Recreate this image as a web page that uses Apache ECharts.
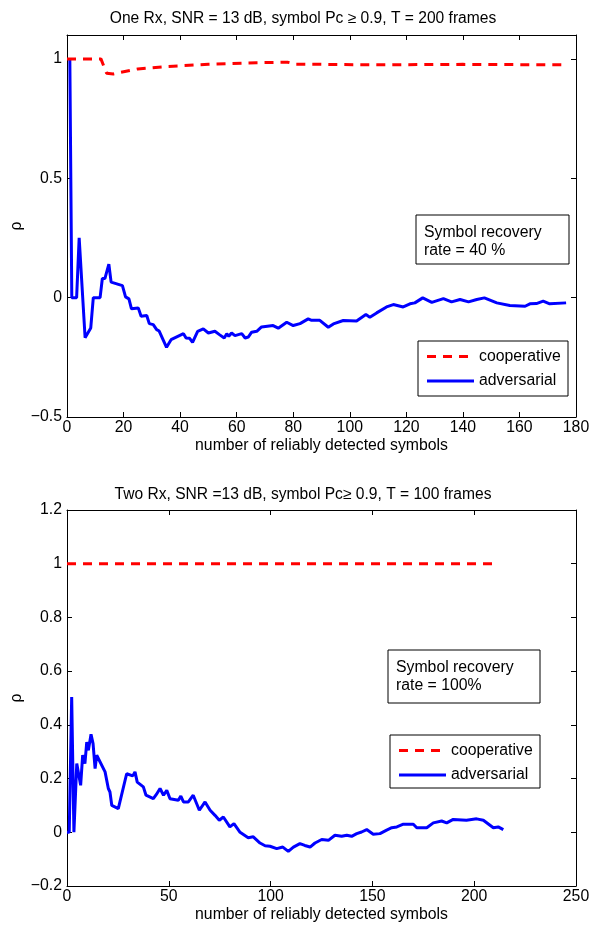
<!DOCTYPE html>
<html>
<head>
<meta charset="utf-8">
<script src="https://cdn.jsdelivr.net/npm/echarts@6/dist/echarts.min.js"></script>
<style>
html,body{margin:0;padding:0;background:#fff;}
#chart{width:606px;height:930px;}
</style>
</head>
<body>
<div id="chart"></div>
<script>
// ---- data ----
const titleTop = "One Rx, SNR = 13 dB, symbol Pc \u2265 0.9, T = 200 frames";
const titleBottom = "Two Rx, SNR =13 dB, symbol Pc\u2265 0.9, T = 100 frames";
const xLabelText = "number of reliably detected symbols";
const yLabelText = "\u03c1";
const seriesNames = ["cooperative", "adversarial"];
const noteTop = ["Symbol recovery", "rate = 40 %"];
const noteBottom = ["Symbol recovery", "rate = 100%"];

const cooperativeTop = [[0,1],[12,1],[14,0.94],[16.4,0.937],[25,0.958],[35,0.968],[50,0.977],[67,0.984],[78,0.986],[81,0.978],[110,0.975],[140,0.977],[176.5,0.975]];
const adversarialTop = [[1,1],[1.7,0],[3.4,0],[4.3,0.25],[6.4,-0.168],[8.4,-0.127],[9.3,0],[11.7,0],[12.5,0.08],[13.4,0.08],[14.8,0.14],[15.6,0.065],[19.6,0.05],[20.7,0.003],[21.9,-0.005],[22.8,-0.047],[25.2,-0.043],[26.2,-0.078],[28.2,-0.075],[29.1,-0.109],[30.5,-0.113],[31.7,-0.134],[32.6,-0.14],[35.2,-0.208],[36.8,-0.176],[41.2,-0.151],[42.1,-0.169],[43.3,-0.17],[44.4,-0.187],[46.2,-0.141],[48.2,-0.131],[50,-0.148],[52.3,-0.141],[53.9,-0.155],[55.6,-0.169],[56.5,-0.151],[57.2,-0.162],[58.2,-0.148],[59.4,-0.159],[61.8,-0.151],[63,-0.169],[64.1,-0.165],[65.3,-0.145],[67.1,-0.141],[68.8,-0.123],[72.9,-0.117],[74.7,-0.128],[77.7,-0.103],[80,-0.117],[82.4,-0.109],[85.3,-0.089],[86.5,-0.095],[89.4,-0.095],[92.4,-0.124],[94.2,-0.11],[97.7,-0.096],[102.4,-0.098],[105.7,-0.071],[107.1,-0.082],[109.5,-0.064],[113,-0.039],[115.4,-0.029],[118.9,-0.039],[121.3,-0.026],[123,-0.022],[125.8,-0.001],[129,-0.02],[133.1,-0.004],[136,-0.018],[139,-0.008],[142,-0.018],[144.9,-0.008],[147.6,-0.001],[152,-0.022],[156.6,-0.033],[162,-0.036],[163.7,-0.026],[166,-0.025],[168.4,-0.015],[170.7,-0.026],[176.5,-0.022]];

const cooperativeBottom = [[0,1],[211,1]];
const adversarialBottom = [[0,0],[1.1,0],[2.3,0.504],[3.4,0],[4.8,0.256],[6.7,0.175],[7.7,0.287],[8.8,0.256],[9.7,0.336],[10.5,0.305],[11.8,0.365],[12.8,0.33],[13.8,0.237],[14.6,0.287],[18.7,0.225],[20.3,0.163],[21.1,0.15],[22,0.1],[25.2,0.088],[29.3,0.218],[32.3,0.21],[33.4,0.225],[34.5,0.187],[37.5,0.169],[38.8,0.138],[42.4,0.125],[43.9,0.141],[45.7,0.163],[47.4,0.138],[49,0.156],[50.6,0.125],[54.7,0.119],[55.9,0.135],[57.2,0.113],[59.6,0.113],[62,0.138],[65,0.082],[67.8,0.113],[70.3,0.082],[72.7,0.063],[74.8,0.045],[76.8,0.057],[80,0.02],[82,0.032],[85,0],[89,-0.02],[91.5,-0.017],[94.8,-0.04],[97.3,-0.05],[99.7,-0.052],[103,-0.061],[106,-0.055],[108.7,-0.071],[111.2,-0.055],[114.4,-0.042],[116.8,-0.049],[119.4,-0.055],[121.8,-0.04],[125.1,-0.027],[128.4,-0.03],[131.6,-0.011],[134.9,-0.015],[137.4,-0.011],[139.8,-0.015],[142.3,-0.005],[144.7,0.001],[147.2,0.01],[150.4,-0.007],[153.7,-0.005],[157,0.008],[159.5,0.017],[162,0.02],[165.2,0.03],[170.1,0.03],[171.8,0.017],[176.7,0.017],[179.9,0.035],[184,0.042],[186.5,0.035],[189.7,0.048],[196.2,0.045],[201.2,0.05],[204.5,0.045],[209.4,0.017],[211.8,0.02],[214.3,0.01]];

const xTop = {min:0, max:180, interval:20};
const yTop = {min:-0.5, max:1.1, interval:0.5};
const xBottom = {min:0, max:250, interval:50};
const yBottom = {min:-0.2, max:1.2, interval:0.2};

// ---- chart ----
const FONT = "Liberation Sans, Arial, sans-serif";
const FS = 15.8;
const chart = echarts.init(document.getElementById('chart'), null, {renderer:'canvas'});
const fmt = v => { let s = String(Math.round(v*1000)/1000); return s.replace('-', '\u2212'); };
const lblStyle = {color:'#000', fontFamily:FONT, fontSize:FS};
function xAx(grid, r, pos, main){
  return {type:'value', gridIndex:grid, position:pos, min:r.min, max:r.max, interval:r.interval,
    name: main ? xLabelText : '', nameLocation:'middle', nameGap:21, nameMoveOverlap:false,
    nameTextStyle:{color:'#000', fontFamily:FONT, fontSize:FS},
    axisLine:{show:true, onZero:false, lineStyle:{color:'#000', width:1}},
    axisTick:{show:true, inside:true, length:5, lineStyle:{color:'#000'}},
    axisLabel:{show:main, margin:3, formatter:fmt, ...lblStyle},
    splitLine:{show:false}};
}
function yAx(grid, r, pos, main, hideMax){
  return {type:'value', gridIndex:grid, position:pos, min:r.min, max:r.max, interval:r.interval,
    name: main ? yLabelText : '', nameLocation:'middle', nameGap:42, nameRotate:90, nameMoveOverlap:false,
    nameTextStyle:{color:'#000', fontFamily:FONT, fontSize:FS},
    axisLine:{show:true, onZero:false, lineStyle:{color:'#000', width:1}},
    axisTick:{show:true, inside:true, length:5, lineStyle:{color:'#000'}},
    axisLabel:{show:main, margin:5, formatter:fmt, showMaxLabel: !hideMax, ...lblStyle},
    splitLine:{show:false}};
}
const coopStyle = {color:'#ff0000', width:3, type:[9,7]};
const advStyle = {color:'#0000ff', width:3, type:'solid'};

function box(x,y,w,h,lines){
  return [{type:'rect', shape:{x:x, y:y, width:w, height:h}, style:{fill:'#fff', stroke:'#000', lineWidth:1}, z:100},
    {type:'text', x:x+8, y:y+8, z:101, style:{text:lines.join('\n'), fill:'#000', font:FS+'px '+FONT, lineHeight:18.5}}];
}
function legendBox(x,y,w,h){
  const els = [{type:'rect', shape:{x:x, y:y, width:w, height:h}, style:{fill:'#fff', stroke:'#000', lineWidth:1}, z:100}];
  const rows = [[y+15.5, coopStyle, seriesNames[0]],[y+40, advStyle, seriesNames[1]]];
  rows.forEach(([yy, st, name]) => {
    els.push({type:'line', shape:{x1:x+9, y1:yy, x2:x+56, y2:yy}, style:{stroke:st.color, lineWidth:st.width, lineDash: st.type==='solid'?null:st.type}, z:101});
    els.push({type:'text', x:x+61, y:yy, z:101, style:{text:name, fill:'#000', font:FS+'px '+FONT, verticalAlign:'middle'}});
  });
  return els;
}

chart.setOption({
  animation:false,
  backgroundColor:'#fff',
  title:[
    {text:titleTop, left:'center', top:6, textStyle:{color:'#000', fontFamily:FONT, fontSize:15.6, fontWeight:'normal'}},
    {text:titleBottom, left:'center', top:482, textStyle:{color:'#000', fontFamily:FONT, fontSize:15.6, fontWeight:'normal'}}
  ],
  grid:[
    {left:67, top:35, width:509, height:382, containLabel:false, outerBoundsMode:'none'},
    {left:67, top:510, width:509, height:376, containLabel:false, outerBoundsMode:'none'}
  ],
  xAxis:[xAx(0,xTop,'bottom',true), xAx(0,xTop,'top',false), xAx(1,xBottom,'bottom',true), xAx(1,xBottom,'top',false)],
  yAxis:[yAx(0,yTop,'left',true,true), yAx(0,yTop,'right',false,true), yAx(1,yBottom,'left',true,false), yAx(1,yBottom,'right',false,false)],
  series:[
    {name:seriesNames[0], type:'line', xAxisIndex:0, yAxisIndex:0, data:cooperativeTop, symbol:'none', lineStyle:coopStyle, z:3},
    {name:seriesNames[1], type:'line', xAxisIndex:0, yAxisIndex:0, data:adversarialTop, symbol:'none', lineStyle:advStyle, z:2},
    {name:seriesNames[0], type:'line', xAxisIndex:2, yAxisIndex:2, data:cooperativeBottom, symbol:'none', lineStyle:coopStyle, z:3},
    {name:seriesNames[1], type:'line', xAxisIndex:2, yAxisIndex:2, data:adversarialBottom, symbol:'none', lineStyle:advStyle, z:2}
  ],
  graphic:[
    ...box(416,215,153,49,noteTop),
    ...legendBox(418,341,150,55),
    ...box(388,650,152,53,noteBottom),
    ...legendBox(390,735,150,53)
  ]
});
</script>
</body>
</html>
